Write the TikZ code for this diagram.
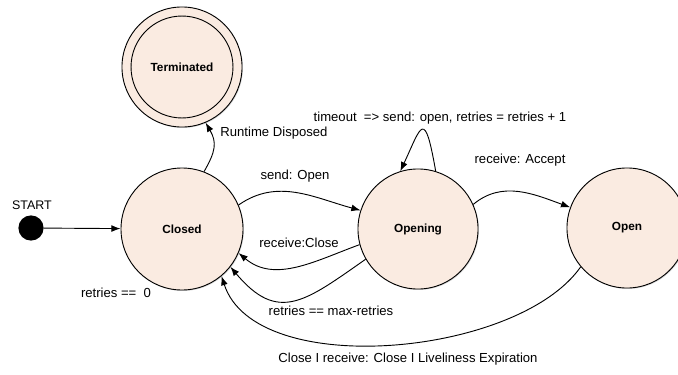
\documentclass[tikz,border=0pt]{standalone}
\usepackage{fontspec}
\setmainfont{Liberation Sans}
\usetikzlibrary{arrows.meta,positioning,shadows}
\definecolor{stateF}{RGB}{250,235,225}

\begin{document}
\begin{tikzpicture}[
	x=0.763pt,y=0.763pt,
	state/.style={
		draw,
		circle,
		fill=stateF,
		inner sep=0pt,
		minimum size=91.6pt,
		font=\fontsize{9}{11}\selectfont\bfseries,
		drop shadow={shadow xshift=0.7pt,shadow yshift=-0.7pt,opacity=0.3}
	},
	lbl/.style={
		font=\fontsize{10}{12}\selectfont,
		inner sep=0pt
	},
	trans/.style={
		-{Latex[length=7pt,width=5.2pt]}
	},
	line width=0.7pt
	]
	\clip (0,0) rectangle (678,374);
	
	\node[state,minimum size=93.1pt] at (182,145) (closed) {Closed};
	\node[state] at (418,145) (opening) {Opening};
	\node[state] at (627,146) (open) {Open};
	\node[state] at (182,307) (term) {Terminated};
	\node[draw,circle,inner sep=0pt,minimum size=77.8pt] at (term.center) (termin) {};
	
	\node[draw,circle,fill=black,inner sep=0pt,minimum size=18.5pt] at (31,146) (start) {};
	\node[lbl,font=\fontsize{9.5}{11}\selectfont] at (32,169) (startlbl) {START};
	
	\draw[trans] (start) -- (closed);
	\draw[trans] (closed.69) to[out=60,in=-60,looseness=1.2] (term.293);
	\draw[trans] (closed.23) to[out=35,in=165] (opening.162);
	\draw[trans] (opening.24) to[out=40,in=160] (open.160);
	\draw[trans] (opening.73) .. controls +(100:65) and +(65:50) .. (opening.107);
	\draw[trans] (opening.195) to[out=200,in=-40] (closed.337);
	\draw[trans] (opening.210) to[out=215,in=-50,looseness=1.4] (closed.322);
	\draw[trans] (open.220) to[out=235,in=-72,looseness=0.78] (closed.310);
	
	\node[lbl,anchor=west] at (220,241) (rdlbl) {Runtime Disposed};
	\node[lbl] at (295,198) (sendlbl) {send: Open};
	\node[lbl] at (520,214) (acclbl) {receive: Accept};
	\node[lbl] at (440,256) (toutlbl) {timeout~ => send: open, retries = retries + 1};
	\node[lbl] at (299,131) (rclbl) {receive:Close};
	\node[lbl] at (331,63) (maxlbl) {retries == max-retries};
	\node[lbl] at (408,15) (closelbl) {Close I receive: Close I Liveliness Expiration};
	\node[lbl] at (116,81) (zerolbl) {retries ==~ 0};
\end{tikzpicture}
\end{document}
